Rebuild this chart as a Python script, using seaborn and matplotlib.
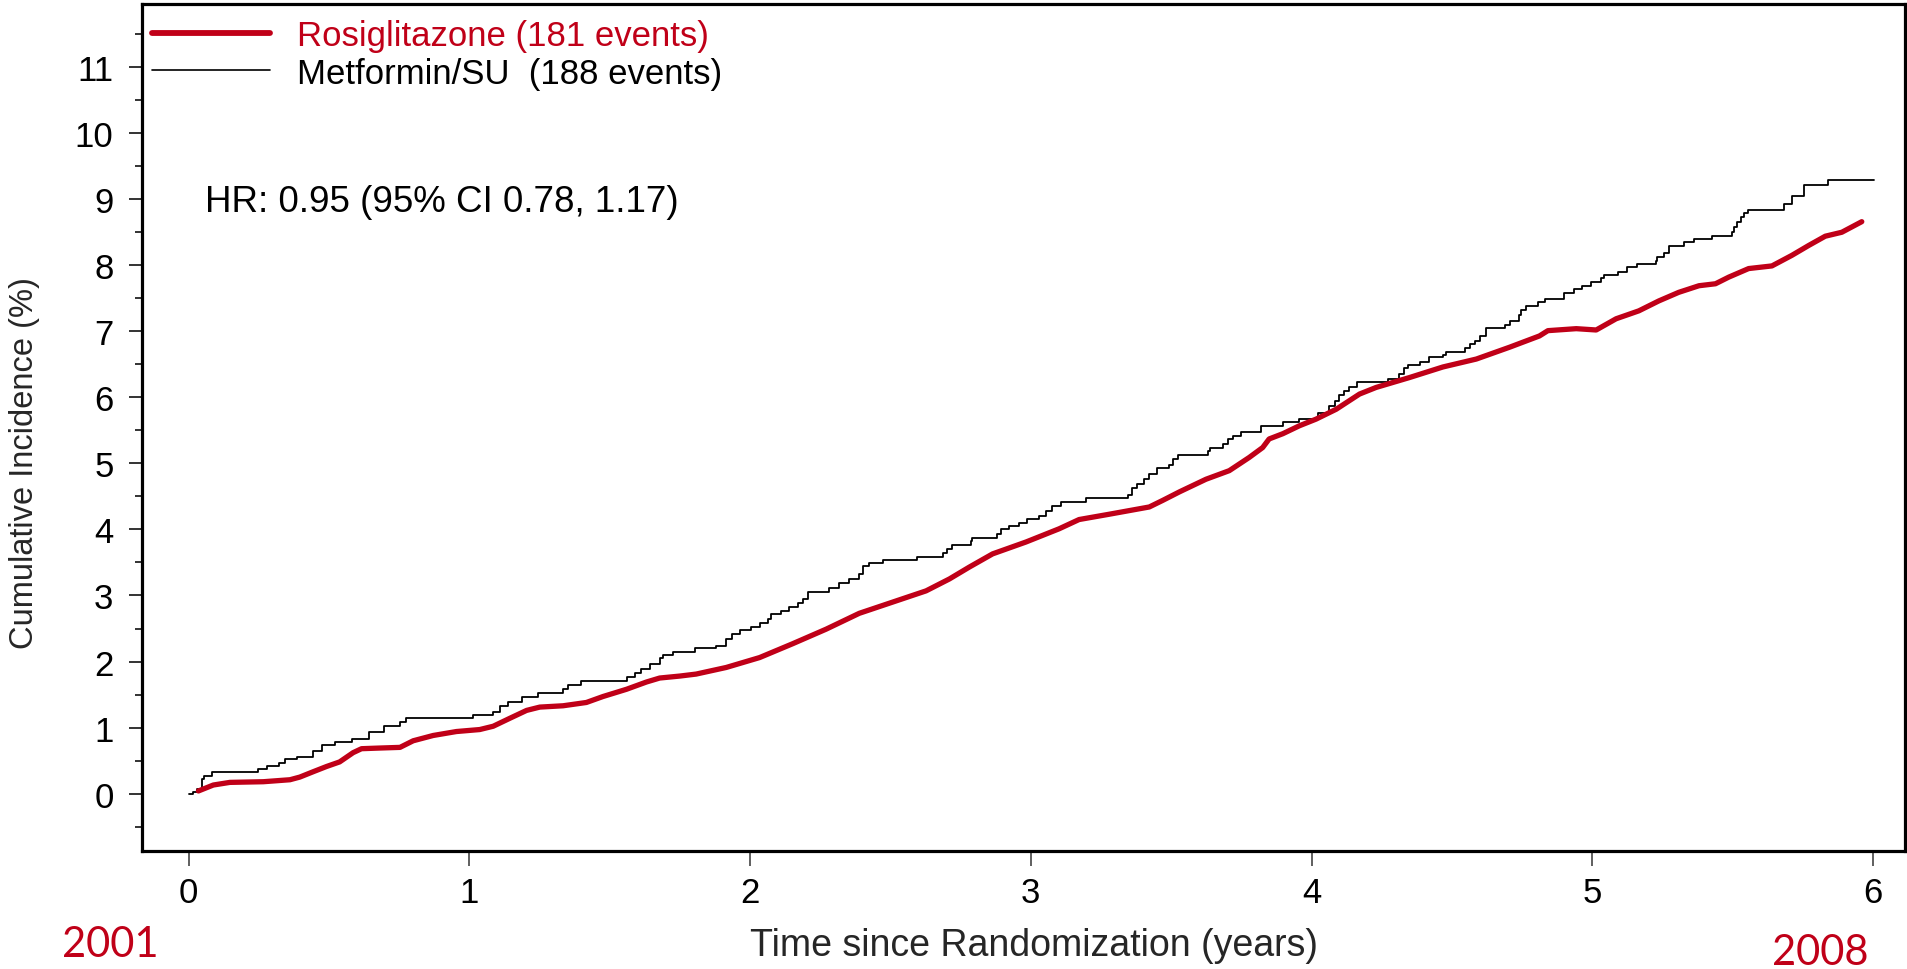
import matplotlib
matplotlib.use("Agg")
import matplotlib.pyplot as plt
from matplotlib.lines import Line2D
from matplotlib.ticker import MultipleLocator, FixedLocator
import pandas as pd
import seaborn as sns

# Metformin/SU arm: Kaplan-Meier step points (years, cumulative incidence %)
met_time = [0.0, 0.015, 0.029, 0.046, 0.054, 0.085, 0.248, 0.280, 0.323, 0.343,
            0.385, 0.442, 0.474, 0.521, 0.581, 0.643, 0.696, 0.753, 0.776, 1.014,
            1.085, 1.109, 1.138, 1.186, 1.245, 1.334, 1.352, 1.399, 1.560, 1.589,
            1.613, 1.643, 1.678, 1.690, 1.726, 1.803, 1.880, 1.916, 1.934, 1.963,
            2.005, 2.034, 2.064, 2.076, 2.110, 2.140, 2.170, 2.188, 2.205, 2.282,
            2.318, 2.353, 2.389, 2.403, 2.422, 2.474, 2.593, 2.686, 2.703, 2.721,
            2.786, 2.792, 2.881, 2.893, 2.923, 2.958, 2.988, 3.029, 3.053, 3.077,
            3.107, 3.196, 3.345, 3.362, 3.380, 3.404, 3.422, 3.451, 3.494, 3.506,
            3.524, 3.631, 3.637, 3.684, 3.702, 3.720, 3.749, 3.820, 3.898, 3.957,
            4.022, 4.064, 4.082, 4.099, 4.117, 4.135, 4.161, 4.272, 4.313, 4.331,
            4.343, 4.385, 4.420, 4.468, 4.480, 4.545, 4.563, 4.581, 4.599, 4.622,
            4.688, 4.706, 4.739, 4.747, 4.765, 4.807, 4.830, 4.900, 4.935, 4.965,
            4.995, 5.030, 5.042, 5.090, 5.125, 5.161, 5.226, 5.232, 5.256, 5.274,
            5.327, 5.363, 5.428, 5.497, 5.505, 5.517, 5.529, 5.541, 5.556, 5.683,
            5.713, 5.755, 5.841, 6.004]
met_inc = [0.00, 0.03, 0.07, 0.22, 0.27, 0.33, 0.37, 0.42, 0.47, 0.52,
           0.56, 0.65, 0.74, 0.78, 0.83, 0.93, 1.03, 1.08, 1.15, 1.19,
           1.24, 1.32, 1.38, 1.46, 1.53, 1.58, 1.64, 1.71, 1.76, 1.82,
           1.89, 1.96, 2.06, 2.10, 2.14, 2.20, 2.24, 2.34, 2.42, 2.48,
           2.53, 2.59, 2.64, 2.72, 2.77, 2.82, 2.88, 2.95, 3.06, 3.11,
           3.19, 3.25, 3.33, 3.45, 3.49, 3.54, 3.59, 3.65, 3.70, 3.76,
           3.83, 3.87, 3.93, 4.00, 4.05, 4.10, 4.16, 4.21, 4.28, 4.36,
           4.42, 4.47, 4.52, 4.62, 4.69, 4.76, 4.84, 4.93, 4.98, 5.07,
           5.13, 5.19, 5.23, 5.29, 5.37, 5.42, 5.48, 5.57, 5.62, 5.67,
           5.77, 5.87, 5.95, 6.03, 6.09, 6.15, 6.23, 6.28, 6.35, 6.45,
           6.49, 6.54, 6.61, 6.64, 6.69, 6.74, 6.81, 6.86, 6.93, 7.05,
           7.10, 7.16, 7.24, 7.33, 7.39, 7.44, 7.49, 7.58, 7.64, 7.69,
           7.74, 7.80, 7.85, 7.90, 7.97, 8.02, 8.07, 8.12, 8.19, 8.29,
           8.35, 8.40, 8.45, 8.50, 8.58, 8.66, 8.73, 8.79, 8.84, 8.93,
           9.05, 9.21, 9.29, 9.29]

# Rosiglitazone arm: smoothed cumulative incidence (years, %)
rsg_time = [0.035, 0.088, 0.147, 0.266, 0.361, 0.396, 0.443, 0.491, 0.538, 0.586,
            0.616, 0.681, 0.753, 0.800, 0.871, 0.954, 1.037, 1.085, 1.144, 1.204,
            1.251, 1.334, 1.417, 1.476, 1.560, 1.631, 1.678, 1.750, 1.808, 1.915,
            2.034, 2.152, 2.271, 2.389, 2.508, 2.627, 2.710, 2.781, 2.864, 2.983,
            3.101, 3.172, 3.279, 3.422, 3.470, 3.530, 3.624, 3.707, 3.778, 3.826,
            3.849, 3.898, 3.957, 4.016, 4.088, 4.171, 4.230, 4.349, 4.468, 4.587,
            4.706, 4.812, 4.842, 4.943, 5.014, 5.085, 5.166, 5.237, 5.308, 5.380,
            5.439, 5.486, 5.557, 5.640, 5.711, 5.771, 5.830, 5.889, 5.960]
rsg_inc = [0.04, 0.13, 0.17, 0.18, 0.21, 0.25, 0.33, 0.41, 0.48, 0.62,
           0.68, 0.69, 0.70, 0.80, 0.88, 0.94, 0.97, 1.02, 1.14, 1.26,
           1.31, 1.33, 1.38, 1.47, 1.58, 1.69, 1.75, 1.78, 1.81, 1.91,
           2.06, 2.27, 2.49, 2.73, 2.90, 3.07, 3.25, 3.43, 3.63, 3.81,
           4.01, 4.15, 4.23, 4.34, 4.44, 4.57, 4.76, 4.89, 5.09, 5.24,
           5.37, 5.45, 5.57, 5.67, 5.82, 6.05, 6.15, 6.30, 6.46, 6.58,
           6.76, 6.93, 7.01, 7.04, 7.02, 7.19, 7.31, 7.46, 7.59, 7.69,
           7.72, 7.82, 7.95, 7.99, 8.15, 8.30, 8.44, 8.50, 8.66]

series_labels = ["Rosiglitazone (181 events)", "Metformin/SU  (188 events)"]
hr_label = "HR: 0.95 (95% CI 0.78, 1.17)"
x_ticks = [0, 1, 2, 3, 4, 5, 6]
y_ticks = list(range(0, 12))
x_label = "Time since Randomization (years)"
y_label = "Cumulative Incidence (%)"
start_year = "2001"
end_year = "2008"

RED = "#C00018"
W, H = 1908, 970

sns.set_style("ticks")
plt.rcParams["font.family"] = ["Liberation Sans", "DejaVu Sans"]

fig = plt.figure(figsize=(W / 100, H / 100), dpi=100)
ax = fig.add_axes([142 / W, 1 - 852 / H, (1905 - 142) / W, (852 - 5) / H])

met = pd.DataFrame({"t": met_time, "ci": met_inc})
rsg = pd.DataFrame({"t": rsg_time, "ci": rsg_inc})

sns.lineplot(data=met, x="t", y="ci", ax=ax, color="black", linewidth=1.3,
             drawstyle="steps-post", estimator=None, sort=False)
sns.lineplot(data=rsg, x="t", y="ci", ax=ax, color=RED, linewidth=3.8,
             estimator=None, sort=False, solid_capstyle="round",
             solid_joinstyle="round")

ax.set_xlim(-0.166, 6.114)
ax.set_ylim(-0.869, 11.956)
ax.xaxis.set_major_locator(FixedLocator(x_ticks))
ax.yaxis.set_major_locator(FixedLocator(y_ticks))
ax.yaxis.set_minor_locator(MultipleLocator(0.5))

for side in ["left", "bottom", "top", "right"]:
    ax.spines[side].set_visible(True)
    ax.spines[side].set_color("black")
    ax.spines[side].set_linewidth(2.3)

ax.tick_params(axis="x", which="major", direction="out", length=11, width=1.2,
               color="#444444", pad=7, labelsize=25, labelcolor="black")
ax.tick_params(axis="y", which="major", direction="out", length=9.5, width=1.4,
               color="#333333", pad=11, labelsize=25, labelcolor="black")
ax.tick_params(axis="y", which="minor", direction="out", length=5, width=1.4,
               color="#333333")
ax.tick_params(axis="x", which="minor", length=0)

ax.set_xlabel(x_label, fontsize=27)
ax.xaxis.set_label_coords((1034 - 142) / (1905 - 142), (852 - 928) / (852 - 5))
ax.set_ylabel(y_label, fontsize=23.5)
ax.yaxis.set_label_coords((40 - 142) / (1905 - 142), (852 - 463) / (852 - 5))

ax.text(0.058, 8.97, hr_label, fontsize=26.5, ha="left", va="center",
        color="black")

handles = [Line2D([], [], color=RED, linewidth=4.2),
           Line2D([], [], color="black", linewidth=1.2)]
fs_leg = 25
fs_px = fs_leg * 100 / 72
ax.legend(handles=handles, labels=series_labels, loc="upper left",
          bbox_to_anchor=(152 / W, 1 - 20 / H), bbox_transform=fig.transFigure,
          frameon=False, fontsize=fs_leg, handlelength=118 / fs_px,
          handletextpad=27 / fs_px, labelspacing=0.13, borderpad=0,
          borderaxespad=0, labelcolor=[RED, "black"])

year_font = ["Lato", "DejaVu Sans"]
fig.text(62 / W, 1 - 957 / H, start_year, color=RED, fontsize=30,
         family=year_font, ha="left", va="baseline")
fig.text(1869 / W, 1 - 965 / H, end_year, color=RED, fontsize=30,
         family=year_font, ha="right", va="baseline")

fig.savefig("out.png", dpi=100)
